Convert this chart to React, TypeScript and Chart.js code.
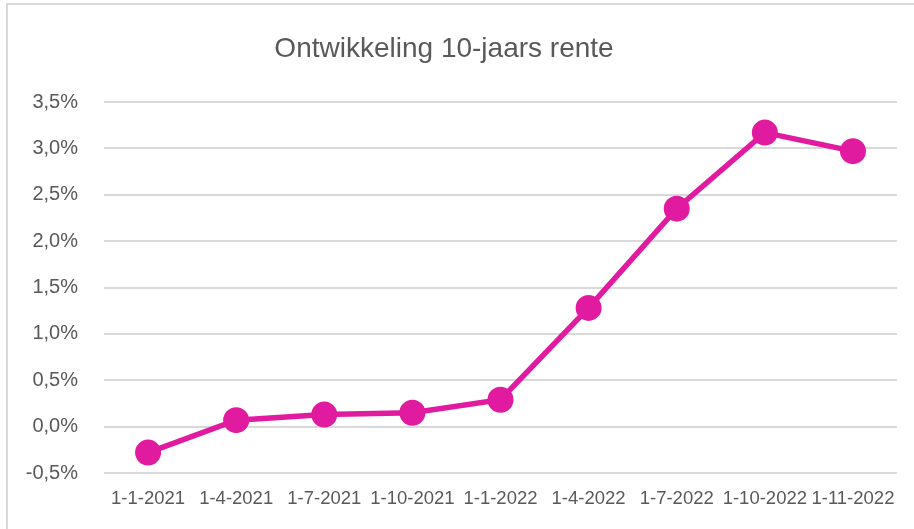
import React, { useEffect, useRef } from "react";
import { Chart, registerables } from "chart.js";

Chart.register(...registerables);

const categories = [
  "1-1-2021",
  "1-4-2021",
  "1-7-2021",
  "1-10-2021",
  "1-1-2022",
  "1-4-2022",
  "1-7-2022",
  "1-10-2022",
  "1-11-2022",
];
const rente = [-0.28, 0.07, 0.13, 0.15, 0.29, 1.28, 2.35, 3.17, 2.97];
const yMin = -0.5;
const yMax = 3.5;
const yStep = 0.5;
const titleText = "Ontwikkeling 10-jaars rente";

const FONT = '"Liberation Sans", Arial, sans-serif';
const TEXT = "#595959";
const MAGENTA = "#E01BA0";

const titlePlugin = {
  id: "customTitle",
  afterDraw(chart: any) {
    const ctx = chart.ctx;
    ctx.save();
    ctx.font = `28px ${FONT}`;
    ctx.fillStyle = TEXT;
    ctx.textAlign = "center";
    ctx.textBaseline = "alphabetic";
    ctx.fillText(titleText, 444, 57);
    ctx.restore();
  },
};

export default function App() {
  const ref = useRef<HTMLCanvasElement | null>(null);
  useEffect(() => {
    if (!ref.current) return;
    const chart = new Chart(ref.current, {
      type: "line",
      data: {
        labels: categories,
        datasets: [
          {
            data: rente,
            borderColor: MAGENTA,
            backgroundColor: MAGENTA,
            borderWidth: 5.5,
            pointRadius: 13,
            pointHoverRadius: 13,
            pointBackgroundColor: MAGENTA,
            pointBorderColor: MAGENTA,
            pointBorderWidth: 0,
            tension: 0,
          },
        ],
      },
      options: {
        animation: false,
        responsive: false,
        maintainAspectRatio: false,
        layout: { padding: { top: 102, right: 17, left: 0, bottom: 0 } },
        plugins: {
          legend: { display: false },
          title: { display: false },
          tooltip: { enabled: false },
        },
        scales: {
          x: {
            offset: true,
            grid: { display: false, drawTicks: false },
            border: { display: false },
            ticks: {
              color: TEXT,
              font: { family: FONT, size: 18.5 },
              padding: 15,
              maxRotation: 0,
              autoSkip: false,
            },
            afterFit: (s: any) => {
              s.height = 56;
            },
          },
          y: {
            min: yMin,
            max: yMax,
            grid: { color: "#d9d9d9", lineWidth: 2, drawTicks: false },
            border: { display: false },
            ticks: {
              stepSize: yStep,
              color: TEXT,
              font: { family: FONT, size: 20 },
              padding: 26,
              callback: (v: any) => Number(v).toFixed(1).replace(".", ",") + "%",
            },
            afterFit: (s: any) => {
              s.width = 104;
            },
          },
        },
      },
      plugins: [titlePlugin],
    });
    return () => chart.destroy();
  }, []);

  return (
    <div style={{ position: "fixed", left: 0, top: 0, width: 914, height: 529, background: "#fff", overflow: "hidden" }}>
      <div
        style={{
          position: "absolute",
          left: 6,
          top: 3,
          width: 930,
          height: 560,
          border: "2px solid #d9d9d9",
          boxSizing: "border-box",
        }}
      />
      <canvas ref={ref} width={914} height={529} style={{ position: "absolute", left: 0, top: 0 }} />
    </div>
  );
}
